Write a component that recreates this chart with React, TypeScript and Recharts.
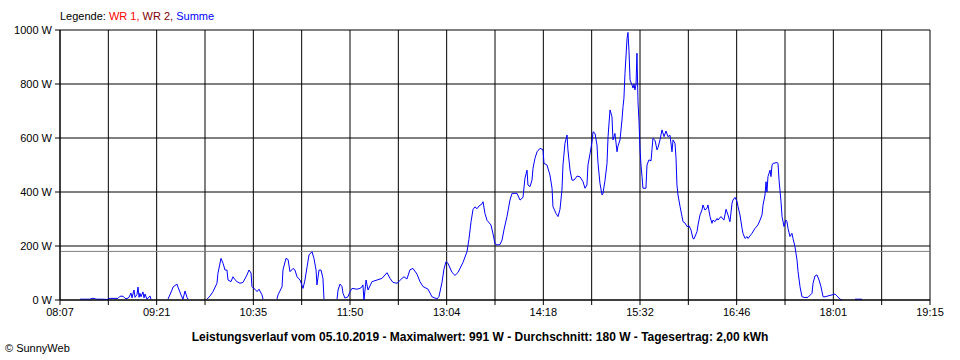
import React from 'react';
import { LineChart, Line, XAxis, YAxis, CartesianGrid, ReferenceLine } from 'recharts';

// minutes since midnight; null = no feed-in (line interrupted)
const times = [
  502.4, 506.2, 510.0, 511.6, 513.1, 514.6, 519.2, 523.1, 525.4, 531.5, 533.1, 535.4, 536.9, 538.4, 540.0,
  541.5, 542.3, 543.8, 544.6, 546.1, 546.9, 547.7, 548.4, 549.2, 550.7, 551.5, 552.3, 553.8, 556.1, 556.9, 563,
  569.9, 573.0, 573.8, 576.8, 577.6, 579.9, 581.4, 583.0, 584.5, 585.3, 592,
  599.9, 602.2, 604.5, 607.5, 608.3, 610.6, 612.2, 613.7, 615.2, 616.0, 618.3, 619.8, 621.4, 622.9, 625.2,
  627.5, 630.6, 632.1, 633.7, 634.4, 635.2, 636.7, 638.3, 639.8, 642.1, 642.9, 648,
  653.6, 654.4, 657.5, 658.2, 660.5, 662.1, 663.6, 665.9, 667.4, 669.0, 671.3, 673.6, 675.1, 676.7, 678.2,
  680.5, 682.0, 683.6, 684.3, 685.9, 687.4, 688.9, 689.7, 695,
  699.7, 700.5, 702.0, 703.5, 704.3, 705.8, 708.1, 709.7, 711.2, 715.0, 717.3, 718.9, 719.6, 720.4, 722.0,
  723.5, 726.6, 730.4, 734.2, 738.1, 740.4, 742.7, 745.8, 749.6, 751.1, 753.4, 755.7, 758.0, 761.1, 763.4,
  765.7, 769.6, 772.6, 776.5, 778.0, 780.3, 781.8, 783.4, 784.9, 788.0, 790.3, 792.6, 796.4, 799.5, 801.0,
  802.6, 804.1, 805.6, 807.2, 808.7, 811.0, 811.8, 813.3, 814.9, 817.9, 819.5, 821.0, 822.5, 824.8,
  826.4, 827.9, 830.2, 832.5, 834.1, 837.9, 840.2, 842.5, 844.0, 845.6, 846.3, 847.9, 849.4, 850.2, 851.7,
  853.3, 855.6, 857.9, 858.6, 860.9, 863.2, 864.8, 865.5, 867.8, 869.4, 870.9, 872.4, 873.2, 874.7, 876.3,
  877.0, 878.6, 880.1, 881.7, 884.0, 886.3, 888.6, 890.1, 891.6, 892.4, 894.0, 895.5, 896.3, 897.8, 899.3,
  900.1, 901.6, 903.2, 903.9, 905.5, 907.0, 907.8, 909.3, 910.8, 911.6, 913.1, 914.7, 915.4, 917.0, 918.5,
  919.3, 920.0, 920.8, 922.4, 923.1, 923.9, 924.7, 926.2, 927.0, 927.7, 928.5, 929.3, 930.0, 930.8, 931.6,
  932.3, 933.1, 933.9, 934.6, 936.9, 937.7, 939.2, 940.8, 941.5, 942.3, 943.9, 945.4, 946.2, 947.7, 949.2,
  950.8, 952.3, 953.8, 955.4, 956.9, 957.7, 959.2, 960.0, 960.7, 961.5, 963.1, 964.6, 965.4, 966.9, 968.4,
  970.0, 971.5, 973.0, 973.8, 976.1, 976.9, 978.4, 979.9, 980.7, 982.2, 983.8, 984.5, 986.1, 987.6, 988.4,
  989.9, 991.5, 992.2, 994.5, 996.8, 998.4, 999.9, 1001.4, 1003.0, 1003.7, 1005.3, 1006.8, 1007.6, 1009.1, 1010.7,
  1011.4, 1013.0, 1014.5, 1015.3, 1018.3, 1020.6, 1022.9, 1024.5, 1026.0, 1026.8, 1028.3, 1029.1, 1029.8, 1030.6, 1032.2,
  1032.9, 1033.7, 1034.5, 1037.5, 1038.3, 1039.1, 1040.6, 1041.4, 1042.9, 1044.4, 1045.2, 1046.0, 1047.5, 1049.0, 1049.8,
  1051.3, 1052.9, 1053.7, 1055.2, 1056.7, 1059.0, 1061.3, 1064.4, 1065.2, 1066.7, 1068.2, 1069.8, 1071.3, 1072.9, 1074.4,
  1076.7, 1079.8, 1082.1, 1083.6, 1085.9, 1087.4, 1092,
  1097.4, 1102.8,
];

const summe = [
  3, 3, 3, 6, 6, 3, 3, 2, 6, 6, 14, 14, 6, 5, 10,
  26, 8, 37, 10, 20, 48, 10, 25, 12, 30, 8, 22, 3, 15, 2, null,
  3, 37, 48, 59, 48, 19, 3, 33, 10, 3, null,
  3, 15, 31, 62, 99, 154, 136, 111, 111, 74, 68, 86, 75, 68, 62,
  65, 93, 111, 100, 49, 45, 40, 31, 40, 19, 3, null,
  3, 19, 49, 111, 154, 150, 105, 117, 111, 86, 74, 43, 74, 123, 167,
  179, 154, 111, 56, 111, 111, 80, 3, null,
  3, 37, 59, 50, 25, 7, 12, 31, 43, 40, 43, 49, 56, 0, 74,
  37, 68, 74, 80, 101, 80, 65, 62, 80, 86, 78, 112, 117, 96, 68,
  50, 40, 12, 4, 13, 65, 114, 142, 136, 102, 91, 102, 139, 179, 225,
  290, 335, 345, 338, 348, 356, 364, 320, 295, 278, 245, 208, 204, 205,
  222, 260, 309, 370, 395, 395, 370, 380, 451, 481, 426, 420, 444, 488, 525,
  549, 562, 556, 506, 500, 463, 414, 346, 321, 309, 336, 407, 500, 580, 611,
  556, 481, 444, 444, 459, 456, 438, 414, 426, 500, 543, 586, 623, 617, 574,
  506, 432, 389, 395, 444, 506, 605, 704, 679, 593, 617, 549, 570, 593, 667,
  716, 747, 839, 969, 991, 920, 815, 796, 785, 800, 778, 800, 914, 734, 660,
  562, 500, 457, 414, 414, 500, 519, 515, 556, 599, 590, 556, 565, 593, 630,
  605, 626, 605, 610, 549, 593, 580, 525, 426, 389, 346, 309, 290, 285, 272,
  275, 259, 228, 226, 253, 278, 315, 333, 352, 333, 340, 352, 309, 284, 296,
  290, 302, 296, 309, 296, 336, 315, 290, 358, 370, 380, 365, 346, 315, 265,
  247, 228, 235, 228, 247, 265, 278, 296, 315, 352, 389, 438, 400, 457, 481,
  457, 500, 506, 509, 506, 444, 364, 309, 272, 296, 290, 265, 235, 247, 228,
  198, 148, 105, 49, 12, 9, 10, 25, 62, 89, 93, 74, 49, 12, 12,
  15, 19, 22, 15, 3, 0, null,
  3, 3,
];

const xTickLabels = [
  '08:07', '', '09:21', '', '10:35', '', '11:50', '', '13:04', '', '14:18', '',
  '15:32', '', '16:46', '', '18:01', '', '19:15',
];
const yTicks = [0, 200, 400, 600, 800, 1000];
const durchschnitt = 180;
const tStart = 487;
const tEnd = 1155;

const xTicks = xTickLabels.map((_, i) => tStart + (i * (tEnd - tStart)) / (xTickLabels.length - 1));
const data = times.map((t, i) => ({ t, w: summe[i] }));

const font = '"Liberation Sans", Arial, sans-serif';

export default function App() {
  return (
    <div style={{ position: 'absolute', left: 0, top: 0, width: 960, height: 360, background: '#fff' }}>
      <LineChart width={960} height={360} data={data} margin={{ top: 30, right: 30, left: 0, bottom: 30 }}>
        <CartesianGrid stroke="#000" strokeWidth={1} />
        <XAxis
          dataKey="t" type="number" domain={[tStart, tEnd]} ticks={xTicks} interval={0}
          tickFormatter={(_v, i) => xTickLabels[i]}
          height={30} tickSize={5} tickMargin={3}
          stroke="#000" tick={{ fill: '#000', fontSize: 11, fontFamily: font }}
        />
        <YAxis
          type="number" domain={[0, 1000]} ticks={yTicks} interval={0}
          tickFormatter={(v) => `${v} W`}
          width={60} tickSize={5} tickMargin={3}
          stroke="#000" tick={{ fill: '#000', fontSize: 11, fontFamily: font }}
        />
        <ReferenceLine y={durchschnitt} stroke="#808080" strokeWidth={1} />
        <Line
          type="linear" dataKey="w" stroke="#0000ff" strokeWidth={1}
          dot={false} connectNulls={false} isAnimationActive={false}
        />
      </LineChart>
      <svg width={960} height={360} style={{ position: 'absolute', left: 0, top: 0, pointerEvents: 'none' }}>
        <text x={60} y={20} fontSize={11} fontFamily={font}>
          <tspan fill="#000">Legende: </tspan>
          <tspan fill="#ff0000">WR 1, </tspan>
          <tspan fill="#800000">WR 2, </tspan>
          <tspan fill="#0000ff">Summe</tspan>
        </text>
        <text x={480} y={341} fontSize={12} fontWeight="bold" fontFamily={font} textAnchor="middle" fill="#000">
          Leistungsverlauf vom 05.10.2019 - Maximalwert: 991 W - Durchschnitt: 180 W - Tagesertrag: 2,00 kWh
        </text>
        <text x={5} y={352} fontSize={11} fontFamily={font} fill="#000">© SunnyWeb</text>
      </svg>
    </div>
  );
}
